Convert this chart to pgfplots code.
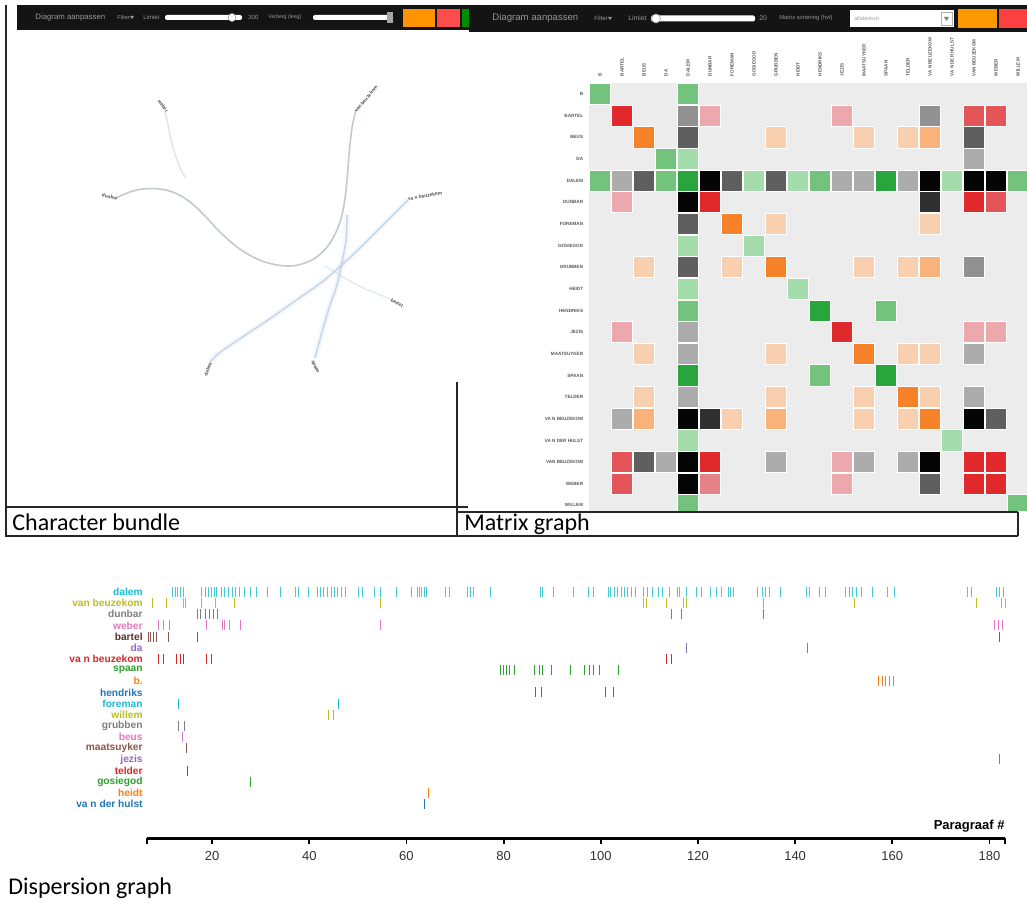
\documentclass[border=0pt]{standalone}
\usepackage{fontspec}
\setmainfont{Liberation Sans}
\newfontfamily\calibri{Carlito}
\usepackage{pgfplots}
\pgfplotsset{compat=1.18}
\usepackage{pgfplotstable}

\definecolor{dBlue}{HTML}{1F77B4}
\definecolor{dOrange}{HTML}{FF7F0E}
\definecolor{dGreen}{HTML}{2CA02C}
\definecolor{dRed}{HTML}{D62728}
\definecolor{dPurple}{HTML}{9467BD}
\definecolor{dBrown}{HTML}{8C564B}
\definecolor{dPink}{HTML}{E377C2}
\definecolor{dGray}{HTML}{7F7F7F}
\definecolor{dOlive}{HTML}{BCBD22}
\definecolor{dCyan}{HTML}{17BECF}

\definecolor{mG1}{RGB}{40,165,60}
\definecolor{mG2}{RGB}{115,195,125}
\definecolor{mG3}{RGB}{165,220,172}
\definecolor{mR1}{RGB}{225,40,42}
\definecolor{mR2}{RGB}{228,85,90}
\definecolor{mR4}{RGB}{230,130,135}
\definecolor{mR3}{RGB}{236,168,172}
\definecolor{mO1}{RGB}{245,130,40}
\definecolor{mO2}{RGB}{248,178,122}
\definecolor{mO3}{RGB}{248,208,175}
\definecolor{mK1}{RGB}{5,5,5}
\definecolor{mK0}{RGB}{48,48,48}
\definecolor{mK2}{RGB}{95,95,95}
\definecolor{mK3}{RGB}{145,145,145}
\definecolor{mK4}{RGB}{172,172,172}
\definecolor{mBG}{RGB}{236,236,236}
\definecolor{uiText}{RGB}{150,150,150}
\definecolor{bundleA}{RGB}{190,195,202}
\definecolor{bundleB}{RGB}{185,205,228}

\pgfplotstableread{
x y c
0 0 G2
4 0 G2
1 1 R1
4 1 K3
5 1 R3
11 1 R3
15 1 K3
17 1 R2
18 1 R2
2 2 O1
4 2 K2
8 2 O3
12 2 O3
14 2 O3
15 2 O2
17 2 K2
3 3 G2
4 3 G3
17 3 K4
0 4 G2
1 4 K4
2 4 K2
3 4 G2
4 4 G1
5 4 K1
6 4 K2
7 4 G3
8 4 K2
9 4 G3
10 4 G2
11 4 K4
12 4 K4
13 4 G1
14 4 K4
15 4 K1
16 4 G3
17 4 K1
18 4 K1
19 4 G2
1 5 R3
4 5 K1
5 5 R1
15 5 K0
17 5 R1
18 5 R2
4 6 K2
6 6 O1
8 6 O3
15 6 O3
4 7 G3
7 7 G3
2 8 O3
4 8 K2
6 8 O3
8 8 O1
12 8 O3
14 8 O3
15 8 O2
17 8 K3
4 9 G3
9 9 G3
4 10 G2
10 10 G1
13 10 G2
1 11 R3
4 11 K4
11 11 R1
17 11 R3
18 11 R3
2 12 O3
4 12 K4
8 12 O3
12 12 O1
14 12 O3
15 12 O3
17 12 K4
4 13 G1
10 13 G2
13 13 G1
2 14 O3
4 14 K4
8 14 O3
12 14 O3
14 14 O1
15 14 O3
17 14 K4
1 15 K4
2 15 O2
4 15 K1
5 15 K0
6 15 O3
8 15 O2
12 15 O3
14 15 O3
15 15 O1
17 15 K1
18 15 K2
4 16 G3
16 16 G3
1 17 R2
2 17 K2
3 17 K4
4 17 K1
5 17 R1
8 17 K4
11 17 R3
12 17 K4
14 17 K4
15 17 K1
17 17 R1
18 17 R1
1 18 R2
4 18 K1
5 18 R4
11 18 R3
15 18 K2
17 18 R1
18 18 R1
4 19 G2
19 19 G2
}\matrixdata

\newcommand\ML[2]{%
  \node[anchor=east, font=\bfseries\fontsize{2.3}{2.5}\selectfont, text=black!65, inner sep=0pt] at (axis cs:-0.75,#1) {#2};
  \node[anchor=west, rotate=90, font=\bfseries\fontsize{2.3}{2.5}\selectfont, text=black!65, inner sep=0pt] at (axis cs:#1,-0.8) {#2};}

\begin{document}
\begin{tikzpicture}
% ---------------- canvas (pixel coordinates) ----------------
\begin{axis}[at={(0pt,0pt)}, anchor=south west, width=513.5pt, height=452pt,
  scale only axis, xmin=0, xmax=1027, ymin=0, ymax=904, y dir=reverse,
  hide axis, clip=false]
\fill[white] (0,0) rectangle (1027,904);
% left toolbar
\fill[black!92] (17,5) rectangle (470,30);
\node[anchor=west, font=\fontsize{3.9}{4}\selectfont, text=uiText, inner sep=0pt] at (35,17.5) {Diagram aanpassen};
\node[anchor=west, font=\fontsize{2.8}{3}\selectfont, text=uiText, inner sep=0pt] at (117,17.5) {Filter};
\fill[uiText] (130,16) -- (134,16) -- (132,19) -- cycle;
\node[anchor=west, font=\fontsize{3}{3}\selectfont, text=uiText, inner sep=0pt] at (143,17.5) {Limiet};
\fill[white, rounded corners=1pt] (165,15) rectangle (242,20);
\fill[white] (232,17.5) circle (4);
\draw[black!40, line width=0.3pt] (232,17.5) circle (4);
\node[anchor=west, font=\fontsize{3}{3}\selectfont, text=uiText, inner sep=0pt] at (248,17.5) {300};
\node[anchor=west, font=\fontsize{2.6}{3}\selectfont, text=uiText, inner sep=0pt] at (268,17.5) {Verberg (leeg)};
\fill[white, rounded corners=1pt] (313,15) rectangle (393,20);
\fill[black!35] (387,12) rectangle (393,23);
\fill[orange!85!yellow] (403,9) rectangle (435,27);
\fill[red!70!white] (437,9) rectangle (460,27);
\fill[green!55!black] (462,9) rectangle (470,27);
% right toolbar
\fill[black!92] (469,5) rectangle (1027,32);
\node[anchor=west, font=\fontsize{4.8}{5}\selectfont, text=uiText, inner sep=0pt] at (492,18.5) {Diagram aanpassen};
\node[anchor=west, font=\fontsize{3}{3}\selectfont, text=uiText, inner sep=0pt] at (594,18.5) {Filter};
\fill[uiText] (608,17) -- (612,17) -- (610,20) -- cycle;
\node[anchor=west, font=\fontsize{3.4}{4}\selectfont, text=uiText, inner sep=0pt] at (628,18.5) {Limiet};
\fill[white, rounded corners=1pt] (651,15.5) rectangle (755,21.5);
\fill[white] (656,18.5) circle (4.5);
\draw[black!40, line width=0.3pt] (656,18.5) circle (4.5);
\node[anchor=west, font=\fontsize{3.4}{4}\selectfont, text=uiText, inner sep=0pt] at (759,18.5) {20};
\node[anchor=west, font=\fontsize{2.9}{3}\selectfont, text=uiText, inner sep=0pt] at (779,18.5) {Matrix sortering (hvt)};
\fill[white] (850,10) rectangle (954,27);
\draw[black!30, line width=0.3pt] (941,12) rectangle (952,25);
\fill[black!50] (944,17) -- (949,17) -- (946.5,21) -- cycle;
\node[anchor=west, font=\fontsize{2.6}{3}\selectfont, text=black!40, inner sep=0pt] at (854,18.5) {alfabetisch};
\fill[orange!80!yellow] (958,9) rectangle (997,28);
\fill[red!75!white] (999,9) rectangle (1027,28);
% frames
\draw[black!85, line width=1pt] (6,5) -- (6,537);
\draw[black!85, line width=0.8pt] (457,382) -- (457,537);
\draw[black!85, line width=0.8pt] (6,507) -- (468,507);
\draw[black!85, line width=0.8pt] (457,512) -- (1018,512);
\draw[black!85, line width=0.8pt] (6,536) -- (1018,536);
\draw[black!85, line width=0.8pt] (1018,512) -- (1018,536);
% captions
\node[anchor=west, font=\calibri\fontsize{12}{13}\selectfont, inner sep=0pt] at (12,522) {Character bundle};
\node[anchor=west, font=\calibri\fontsize{12}{13}\selectfont, inner sep=0pt] at (464,524) {Matrix graph};
\node[anchor=west, font=\calibri\fontsize{12}{13}\selectfont, inner sep=0pt] at (8,888) {Dispersion graph};
\end{axis}

% ---------------- character bundle ----------------
\begin{axis}[at={(9pt,437pt)}, anchor=north west, width=223.5pt, height=175pt,
  scale only axis, xmin=18, xmax=465, ymin=30, ymax=380, y dir=reverse,
  hide axis, clip=false]
\addplot[bundleB, line width=3pt, opacity=0.12, smooth, tension=0.6] coordinates {
 (408,200) (395,213) (380,228) (363,245) (345,262) (327,278) (308,292) (288,306) (268,320) (250,332) (232,344) (218,354) (210,362)};
\addplot[bundleB, line width=0.8pt, opacity=0.75, smooth, tension=0.6] coordinates {
 (408,200) (395,213) (380,228) (363,245) (345,262) (327,278) (308,292) (288,306) (268,320) (250,332) (232,344) (218,354) (210,362)};
\addplot[bundleB, line width=3pt, opacity=0.12, smooth, tension=0.6] coordinates {
 (347,215) (346,240) (342,262) (337,285) (330,305) (324,325) (319,343) (315,358)};
\addplot[bundleB, line width=0.8pt, opacity=0.75, smooth, tension=0.6] coordinates {
 (347,215) (346,240) (342,262) (337,285) (330,305) (324,325) (319,343) (315,358)};
\addplot[bundleB, line width=0.6pt, opacity=0.45, smooth, tension=0.6] coordinates {
 (392,300) (378,294) (363,288) (348,280) (335,272) (325,266)};
\addplot[bundleA, line width=0.8pt, opacity=0.9, smooth, tension=0.6] coordinates {
 (118,197) (130,192) (143,189) (160,189) (175,193) (190,202) (205,216) (220,232) (237,247) (255,258) (272,264) (290,266) (305,263) (318,256) (330,243) (339,225) (344,205) (347,180) (349,155) (352,128) (356,110)};
\addplot[bundleA, line width=0.7pt, opacity=0.45, smooth, tension=0.6] coordinates {
 (165,112) (168,125) (171,140) (176,157) (181,170) (186,178)};
\begin{scope}[every node/.style={font=\bfseries\fontsize{2.4}{2.5}\selectfont, text=black!70, inner sep=0pt}]
\node[rotate=-55] at (163,106) {weber};
\node[rotate=50] at (366,99) {van beuzekom};
\node[rotate=-12] at (110,197) {dunbar};
\node[rotate=10] at (425,196) {va n beuzekom};
\node[rotate=-30] at (397,303) {bartel};
\node[rotate=70] at (208,369) {dalem};
\node[rotate=-65] at (315,367) {spaan};
\end{scope}
\end{axis}

% ---------------- matrix graph ----------------
\begin{axis}[at={(294.5pt,410.4pt)}, anchor=north west, width=220pt, height=213.9pt,
  scale only axis, xmin=-0.5, xmax=19.5, ymin=-0.5, ymax=19.26, y dir=reverse,
  axis background/.style={fill=mBG},
  axis line style={draw=none}, tick style={draw=none},
  xtick=\empty, ytick=\empty,
  minor xtick={-0.5,0.5,...,19.5}, minor ytick={-0.5,0.5,...,19.5},
  xminorgrids=true, yminorgrids=true,
  minor grid style={white, line width=0.4pt},
  clip mode=individual, clip marker paths=true]
\addplot[scatter, only marks, scatter src=explicit symbolic, mark=square*, mark size=5.3pt,
  mark options={line width=0.4pt},
  scatter/classes={
    G1={mark=square*, fill=mG1, draw=white},
    G2={mark=square*, fill=mG2, draw=white},
    G3={mark=square*, fill=mG3, draw=white},
    R1={mark=square*, fill=mR1, draw=white},
    R2={mark=square*, fill=mR2, draw=white},
    R3={mark=square*, fill=mR3, draw=white},
    R4={mark=square*, fill=mR4, draw=white},
    O1={mark=square*, fill=mO1, draw=white},
    O2={mark=square*, fill=mO2, draw=white},
    O3={mark=square*, fill=mO3, draw=white},
    K0={mark=square*, fill=mK0, draw=white},
    K1={mark=square*, fill=mK1, draw=white},
    K2={mark=square*, fill=mK2, draw=white},
    K3={mark=square*, fill=mK3, draw=white},
    K4={mark=square*, fill=mK4, draw=white}}]
  table[x=x, y=y, meta=c] {\matrixdata};
\ML{0}{B}
\ML{1}{BARTEL}
\ML{2}{BEUS}
\ML{3}{DA}
\ML{4}{DALEM}
\ML{5}{DUNBAR}
\ML{6}{FOREMAN}
\ML{7}{GOSIEGOD}
\ML{8}{GRUBBEN}
\ML{9}{HEIDT}
\ML{10}{HENDRIKS}
\ML{11}{JEZIS}
\ML{12}{MAATSUYKER}
\ML{13}{SPAAN}
\ML{14}{TELDER}
\ML{15}{VA N BEUZEKOM}
\ML{16}{VA N DER HULST}
\ML{17}{VAN BEUZEKOM}
\ML{18}{WEBER}
\ML{19}{WILLEM}
\end{axis}

% ---------------- dispersion graph ----------------
\begin{axis}[at={(73.5pt,158.8pt)}, anchor=north west, width=429pt, height=125.8pt,
  scale only axis, xmin=6.6, xmax=183.2, ymin=0.5, ymax=23.04, y dir=reverse,
  axis x line*=bottom, axis y line=none,
  x axis line style={-, line width=1.5pt, black},
  xtick={20,40,...,180}, ytick=\empty,
  extra x ticks={6.6,183.2}, extra x tick labels={},
  tick align=outside, major tick length=3pt,
  xtick style={black, line width=0.9pt},
  xticklabel style={font=\fontsize{6.5}{7}\selectfont, text=black!80},
  /pgf/number format/assume math mode=true,
  clip=false]
\pgfplotsset{every axis plot/.append style={only marks, mark=|, mark size=2.5pt, mark options={line width=0.5pt}}}
\addplot[dCyan!80!white] coordinates {(11.9,1)(12.4,1)(12.9,1)(13.4,1)(14.2,1)(17.9,1)(18.6,1)(19.2,1)(19.8,1)(20.4,1)(21.0,1)(21.9,1)(22.5,1)(23.3,1)(24.1,1)(24.9,1)(25.7,1)(26.6,1)(27.8,1)(29.1,1)(31.3,1)(34.0,1)(37.1,1)(37.8,1)(39.8,1)(41.6,1)(42.3,1)(43.0,1)(43.8,1)(44.5,1)(45.2,1)(45.9,1)(46.6,1)(47.4,1)(50.1,1)(50.9,1)(53.5,1)(54.6,1)(58.0,1)(61.1,1)(62.2,1)(62.7,1)(63.2,1)(63.7,1)(64.2,1)(68.1,1)(68.8,1)(72.5,1)(73.1,1)(73.7,1)(77.2,1)(87.5,1)(88.1,1)(90.2,1)(94.3,1)(97.4,1)(98.4,1)(101.5,1)(102.1,1)(102.9,1)(103.5,1)(104.2,1)(104.8,1)(105.4,1)(106.4,1)(107.2,1)(108.7,1)(109.7,1)(110.7,1)(111.8,1)(112.8,1)(114.2,1)(115.7,1)(116.3,1)(117.7,1)(119.8,1)(120.8,1)(122.5,1)(123.9,1)(124.9,1)(126.2,1)(126.8,1)(127.4,1)(132.3,1)(133.2,1)(134.0,1)(134.8,1)(136.9,1)(142.4,1)(143.0,1)(145.1,1)(146.3,1)(150.3,1)(151.1,1)(151.9,1)(152.7,1)(153.7,1)(156.0,1)(159.1,1)(160.5,1)(175.4,1)(176.4,1)(181.5,1)(182.1,1)(182.9,1)};
\addplot[dOlive] coordinates {(7.7,2)(10.7,2)(14.1,2)(14.6,2)(17.9,2)(20.6,2)(24.7,2)(54.6,2)(108.7,2)(109.4,2)(113.6,2)(117.0,2)(117.7,2)(133.4,2)(152.3,2)(177.3,2)(182.5,2)(183.2,2)};
\addplot[dGray] coordinates {(16.9,3)(17.7,3)(18.6,3)(19.4,3)(20.2,3)(21.2,3)(114.6,3)(116.6,3)(133.4,3)};
\addplot[dPink] coordinates {(8.9,4)(9.9,4)(11.2,4)(18.9,4)(22.1,4)(22.6,4)(23.5,4)(25.8,4)(54.6,4)(181.1,4)(181.9,4)(182.7,4)};
\addplot[dBrown] coordinates {(7.0,5)(7.4,5)(7.9,5)(8.6,5)(11.0,5)(16.9,5)(182.1,5)};
\addplot[dPurple!70!gray] coordinates {(117.7,6)(142.5,6)};
\addplot[dRed] coordinates {(8.9,7)(10.0,7)(12.7,7)(13.4,7)(14.1,7)(18.9,7)(19.9,7)(113.6,7)(114.6,7)};
\addplot[dGreen] coordinates {(79.3,8)(79.9,8)(80.5,8)(81.3,8)(82.3,8)(86.4,8)(87.3,8)(88.1,8)(89.9,8)(93.7,8)(96.7,8)(97.6,8)(98.4,8)(99.8,8)(103.6,8)};
\addplot[dOrange] coordinates {(157.1,9)(157.9,9)(158.7,9)(159.5,9)(160.2,9)};
\addplot[dBlue] coordinates {(86.5,10)(87.8,10)(100.9,10)(102.6,10)};
\addplot[dCyan] coordinates {(13.1,11)(46.0,11)};
\addplot[dOlive] coordinates {(43.9,12)(45.0,12)};
\addplot[dGray] coordinates {(13.1,13)(14.4,13)};
\addplot[dPink] coordinates {(13.9,14)};
\addplot[dBrown] coordinates {(14.8,15)};
\addplot[dPurple] coordinates {(182.1,16)};
\addplot[dRed] coordinates {(15.0,17)};
\addplot[dGreen] coordinates {(28.0,18)};
\addplot[dOrange] coordinates {(64.5,19)};
\addplot[dBlue] coordinates {(63.7,20)};
\begin{scope}[every node/.style={anchor=east, font=\bfseries\fontsize{5.1}{6}\selectfont, inner sep=0pt, xshift=-2pt}]
\node[text=dCyan] at (axis cs:6.6,1) {dalem};
\node[text=dOlive] at (axis cs:6.6,2) {van beuzekom};
\node[text=dGray] at (axis cs:6.6,3) {dunbar};
\node[text=dPink] at (axis cs:6.6,4) {weber};
\node[text=dBrown!60!black] at (axis cs:6.6,5) {bartel};
\node[text=dPurple] at (axis cs:6.6,6) {da};
\node[text=dRed] at (axis cs:6.6,7) {va n beuzekom};
\node[text=dGreen] at (axis cs:6.6,8) {spaan};
\node[text=dOrange] at (axis cs:6.6,9) {b.};
\node[text=dBlue] at (axis cs:6.6,10) {hendriks};
\node[text=dCyan] at (axis cs:6.6,11) {foreman};
\node[text=dOlive] at (axis cs:6.6,12) {willem};
\node[text=dGray] at (axis cs:6.6,13) {grubben};
\node[text=dPink] at (axis cs:6.6,14) {beus};
\node[text=dBrown] at (axis cs:6.6,15) {maatsuyker};
\node[text=dPurple] at (axis cs:6.6,16) {jezis};
\node[text=dRed] at (axis cs:6.6,17) {telder};
\node[text=dGreen] at (axis cs:6.6,18) {gosiegod};
\node[text=dOrange] at (axis cs:6.6,19) {heidt};
\node[text=dBlue] at (axis cs:6.6,20) {va n der hulst};
\end{scope}
\node[anchor=east, font=\bfseries\fontsize{6.5}{7}\selectfont, inner sep=0pt] at (axis cs:183.2,21.97) {Paragraaf \#};
\end{axis}
\pgfresetboundingbox
\path (0pt,0pt) rectangle (513.5pt,452pt);
\end{tikzpicture}
\end{document}
